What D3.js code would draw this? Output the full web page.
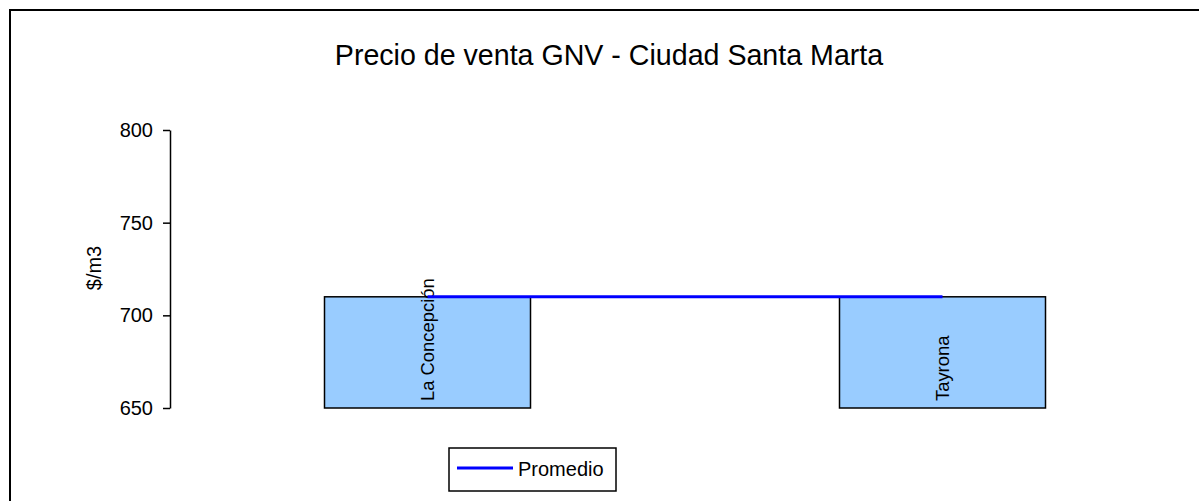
<!DOCTYPE html>
<html>
<head>
<meta charset="utf-8">
<script src="https://cdn.jsdelivr.net/npm/d3@7"></script>
<style>
  body { margin: 0; background: #fff; }
  svg { display: block; font-family: "Liberation Sans", Arial, sans-serif; }
  .axis path, .axis line { stroke: #000; stroke-width: 1.5px; }
  .axis text { font-size: 20px; fill: #000; font-family: "Liberation Sans", Arial, sans-serif; }
</style>
</head>
<body>
<svg width="1199" height="501"></svg>
<script>
var categories = ["La Concepción", "Tayrona"];
var prices = [710, 710];
var promedio = [710, 710];
var yTicks = [650, 700, 750, 800];

var svg = d3.select("svg");

// chart area border (runs off the right and bottom of the picture)
svg.append("rect")
    .attr("x", 10).attr("y", 10)
    .attr("width", 1250).attr("height", 560)
    .attr("fill", "#fff")
    .attr("stroke", "#000")
    .attr("stroke-width", 2);

var x = d3.scaleBand()
    .domain(categories)
    .range([170, 1200])
    .paddingInner(0.6)
    .paddingOuter(0.3);

var y = d3.scaleLinear()
    .domain([650, 800])
    .range([408, 130]);

svg.append("text")
    .attr("x", 609)
    .attr("y", 65)
    .attr("text-anchor", "middle")
    .attr("font-size", "28.6px")
    .text("Precio de venta GNV - Ciudad Santa Marta");

// bars
svg.selectAll(".bar")
    .data(categories)
  .enter().append("rect")
    .attr("class", "bar")
    .attr("x", function(d) { return x(d); })
    .attr("y", function(d, i) { return y(prices[i]); })
    .attr("width", x.bandwidth())
    .attr("height", function(d, i) { return y(650) - y(prices[i]); })
    .attr("fill", "#99ccff")
    .attr("stroke", "#000")
    .attr("stroke-width", 1.5);

// category labels inside bars
svg.selectAll(".cat")
    .data(categories)
  .enter().append("text")
    .attr("class", "cat")
    .attr("transform", function(d) {
      return "translate(" + (x(d) + x.bandwidth() / 2) + "," + (y(650) - 7) + ") rotate(-90)";
    })
    .attr("dy", "0.35em")
    .attr("font-size", "18.4px")
    .text(function(d) { return d; });

// average line
var line = d3.line()
    .x(function(d, i) { return x(categories[i]) + x.bandwidth() / 2; })
    .y(function(d) { return y(d); });

svg.append("path")
    .datum(promedio)
    .attr("d", line)
    .attr("fill", "none")
    .attr("stroke", "#0000ff")
    .attr("stroke-width", 3);

// y axis
svg.append("g")
    .attr("class", "axis")
    .attr("transform", "translate(170,0)")
    .call(d3.axisLeft(y).tickValues(yTicks).tickSize(7).tickPadding(10).tickSizeOuter(0));

svg.append("text")
    .attr("transform", "translate(101,268) rotate(-90)")
    .attr("text-anchor", "middle")
    .attr("font-size", "20px")
    .text("$/m3");

// legend
var legend = svg.append("g").attr("transform", "translate(449,448)");
legend.append("rect")
    .attr("width", 167).attr("height", 43)
    .attr("fill", "#fff")
    .attr("stroke", "#000")
    .attr("stroke-width", 1.5);
legend.append("line")
    .attr("x1", 8).attr("x2", 64)
    .attr("y1", 20).attr("y2", 20)
    .attr("stroke", "#0000ff")
    .attr("stroke-width", 3);
legend.append("text")
    .attr("x", 69).attr("y", 28)
    .attr("font-size", "20px")
    .text("Promedio");
</script>
</body>
</html>
